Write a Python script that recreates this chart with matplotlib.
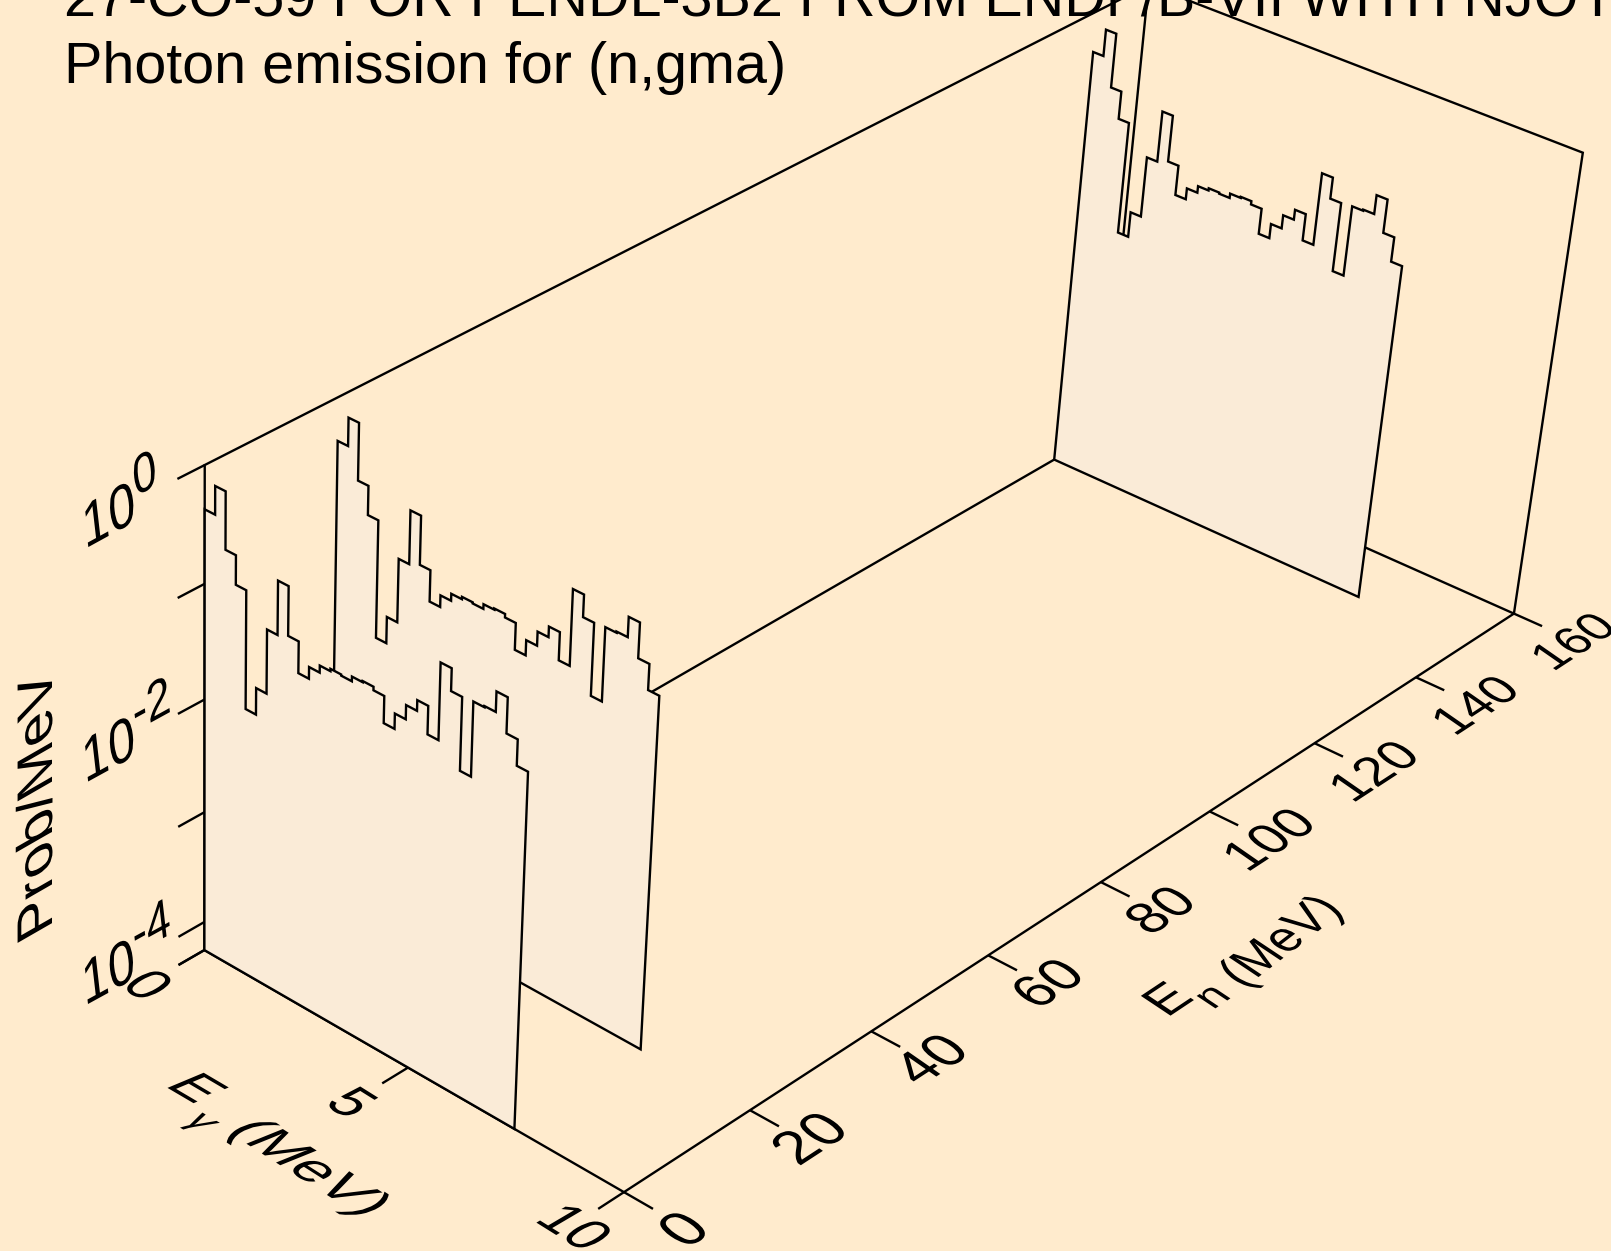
import numpy as np
import matplotlib
matplotlib.use('Agg')
import matplotlib.pyplot as plt
import matplotlib.patheffects as pe
from matplotlib.transforms import Affine2D

plt.rcParams['font.family'] = ['Liberation Sans', 'DejaVu Sans']

BG = '#FFEBCD'
FILL = '#FAEBD7'
LW = 1.7

title_1 = '27-CO-59 FOR PENDL-3B2 FROM ENDF/B-VII WITH NJOY'
title_2 = 'Photon emission for (n,gma)'

# axis ranges and ticks
en_max = 160
eg_max = 10
z_min = -4.26
z_max = 0
en_ticks = [0, 20, 40, 60, 80, 100, 120, 140, 160]
eg_ticks = [0, 5, 10]
z_ticks = [0, -1, -2, -3, -4, z_min]
z_labels = {0: '0', -2: '-2', -4: '-4'}

# gamma energy bin edges (MeV)
eg_edges = [0, 0.25, 0.5, 0.75, 1, 1.25, 1.5, 1.75, 2, 2.25, 2.5, 2.75, 3, 3.25, 3.5, 3.75,
            4, 4.25, 4.5, 4.75, 5, 5.25, 5.5, 5.75, 6, 6.25, 6.5, 6.75, 7, 7.25, 7.5]

# log10(prob/MeV) in each bin, one list per incident energy
log_prob_en0 = [-0.37, -0.13, -0.62, -0.87, -1.89, -1.66, -1.11, -0.65, -1.07, -1.34,
                -1.24, -1.18, -1.16, -1.17, -1.13, -1.12, -1.15, -1.38, -1.25, -1.13,
                -1.04, -1.28, -0.63, -0.82, -1.44, -0.81, -0.80, -0.63, -0.93, -1.15]
log_prob_en20 = [-0.37, -0.13, -0.62, -0.87, -1.89, -1.66, -1.11, -0.65, -1.07, -1.34,
                 -1.24, -1.18, -1.16, -1.17, -1.13, -1.12, -1.15, -1.38, -1.25, -1.13,
                 -1.04, -1.28, -0.63, -0.82, -1.44, -0.81, -0.80, -0.63, -0.93, -1.15]
log_prob_en150 = [-0.37, -0.13, -0.62, -0.87, -1.89, -1.66, -1.11, -0.65, -1.07, -1.34,
                  -1.24, -1.18, -1.16, -1.17, -1.13, -1.12, -1.15, -1.38, -1.25, -1.13,
                  -1.04, -1.28, -0.63, -0.82, -1.44, -0.81, -0.80, -0.63, -0.93, -1.15]

# where known box points land on the canvas, used to fit the perspective view
# (En, Eg, log10 prob, px, py)
view_points = [
    (0, 0, z_min, 204.5, 950.4), (0, 0, 0, 204.5, 467.5), (0, 0, -1, 204.5, 582.5),
    (0, 0, -2, 204.5, 698.6), (0, 0, -3, 204.5, 811.6), (0, 0, -4, 204.5, 921.6),
    (0, 5, z_min, 407.9, 1068.5), (0, 10, z_min, 623.6, 1191.8),
    (20, 10, z_min, 750, 1109.6), (40, 10, z_min, 871.2, 1031.5), (60, 10, z_min, 988.4, 955.5),
    (80, 10, z_min, 1101.4, 881.5), (100, 10, z_min, 1210.3, 811.7), (120, 10, z_min, 1315, 743.8),
    (140, 10, z_min, 1415.8, 678), (160, 10, z_min, 1513.4, 613.4), (160, 10, 0, 1582.2, 152),
    (160, 0, z_min, 1103, 431), (160, 0, 0, 1149.5, -15),
]


def fit_view(points):
    rows, rhs = [], []
    for en, eg, z, px, py in points:
        rows.append([en, eg, z, 1, 0, 0, 0, 0, -px * en, -px * eg, -px * z])
        rhs.append(px)
        rows.append([0, 0, 0, 0, en, eg, z, 1, -py * en, -py * eg, -py * z])
        rhs.append(py)
    sol = np.linalg.lstsq(np.array(rows, float), np.array(rhs, float), rcond=None)[0]
    return np.append(sol, 1.0).reshape(3, 4)


view = fit_view(view_points)


def project(en, eg, z):
    en, eg, z = np.broadcast_arrays(np.asarray(en, float), np.asarray(eg, float), np.asarray(z, float))
    pts = view @ np.array([en, eg, z, np.ones_like(en)])
    return pts[0] / pts[2], pts[1] / pts[2]


class PlaneText(pe.AbstractPathEffect):
    """Lay a text into a plane of the box: u and v are the glyph axes on the canvas."""

    def __init__(self, u, v):
        super().__init__()
        self.local = Affine2D(np.array([[u[0], v[0], 0], [u[1], v[1], 0], [0, 0, 1]], float))

    def draw_path(self, renderer, gc, tpath, affine, rgbFace=None):
        renderer.draw_path(gc, tpath, self.local + affine, rgbFace)


def plane_text(x, y, s, u, v, size=41.4, **kw):
    t = ax.text(x, y, s, fontsize=size, ha='left', va='baseline', color='black', clip_on=False, **kw)
    t.set_path_effects([PlaneText(u, v)])
    return t


def number_text(cx, cy, s, u, v, size=41.4):
    # centre of a run of digits at (cx, cy); a digit is 0.556 em wide, 0.716 em high
    em = size * 100 / 72
    half_w = 0.278 * em * len(s)
    half_h = 0.358 * em
    x = cx - u[0] * half_w - v[0] * half_h
    y = cy + u[1] * half_w + v[1] * half_h
    plane_text(x, y, s, u, v, size)


def line3d(en, eg, z, **kw):
    x, y = project(en, eg, z)
    ax.plot(x, y, color='black', lw=LW, solid_joinstyle='miter', solid_capstyle='butt', **kw)


fig = plt.figure(figsize=(16.11, 12.51), dpi=100, facecolor=BG)
ax = fig.add_axes([0, 0, 1, 1])
ax.set_xlim(0, 1611)
ax.set_ylim(1251, 0)
ax.axis('off')

# box
line3d([0, 0, en_max, en_max], [0, 0, 0, 0], [z_min, z_max, z_max, z_min], zorder=1)
line3d([en_max, en_max, en_max], [0, eg_max, eg_max], [z_max, z_max, z_min], zorder=1)
line3d([0, en_max, en_max], [0, 0, eg_max], [z_min, z_min, z_min], zorder=1)
line3d([0, 0, en_max], [0, eg_max, eg_max], [z_min, z_min, z_min], zorder=1)

# spectra, back to front so that the nearer ones hide the farther ones
for i, (en, vals) in enumerate([(150, log_prob_en150), (20, log_prob_en20), (0, log_prob_en0)]):
    eg_step = np.repeat(eg_edges, 2)
    z_step = np.concatenate([[z_min], np.repeat(vals, 2), [z_min]])
    px, py = project(en, eg_step, z_step)
    ax.fill(px, py, facecolor=FILL, edgecolor='black', lw=LW, joinstyle='miter', zorder=2 + i)

# ticks
for v in en_ticks:
    line3d([v, v], [eg_max, eg_max + 0.65], [z_min, z_min], zorder=6)
for v in eg_ticks:
    line3d([0, -4], [v, v], [z_min, z_min], zorder=6)
for v in z_ticks:
    line3d([0, -4], [0, 0], [v, v], zorder=6)

# tick labels lie in the planes of the box, and shrink towards the far end
for v in en_ticks:
    x, y = project(v, eg_max, z_min)
    s = 1.2 - 0.0015 * v
    dy = 36 if v == 0 else 27
    number_text(x + 58, y + dy, str(v), (0.72 * s, 0.47 * s), (-0.72 * s, 0.5 * s))
for v in eg_ticks:
    x, y = project(0, v, z_min)
    dx = -48 if v == 10 else -55
    number_text(x + dx, y + 34, str(v), (0.8, -0.5), (0.85, 0.5))
for v, lab in z_labels.items():
    x, y = project(0, 0, v)
    plane_text(x - 120, y + 84, '10', (0.82, 0.45), (-0.12, 1.05))
    plane_text(x - 70, y + 32, lab, (0.82, 0.45), (-0.12, 1.05), size=37)

# axis titles
plane_text(52, 928, 'Prob/MeV', (0, 1.03), (-0.87, -0.5))
plane_text(1167, 1018, 'E', (0.75, 0.5), (-0.75, 0.5))
plane_text(1213, 1010, 'n', (0.75, 0.5), (-0.75, 0.5), size=34)
plane_text(1243, 989, '(MeV)', (0.65, 0.5), (-0.75, 0.5))
plane_text(166, 1087, 'E', (0.85, -0.5), (0.75, 0.48), style='italic')
plane_text(184, 1122, '\u03b3', (0.85, -0.5), (0.75, 0.48), style='italic', size=30)
plane_text(228, 1132, '(MeV)', (0.88, -0.56), (0.75, 0.48), style='italic')

# titles run off the top of the picture like the original
ax.text(64, 15, title_1, fontsize=41.4, ha='left', va='baseline')
ax.text(64, 83, title_2, fontsize=41.4, ha='left', va='baseline')

fig.savefig('out.png', dpi=100, facecolor=BG)
